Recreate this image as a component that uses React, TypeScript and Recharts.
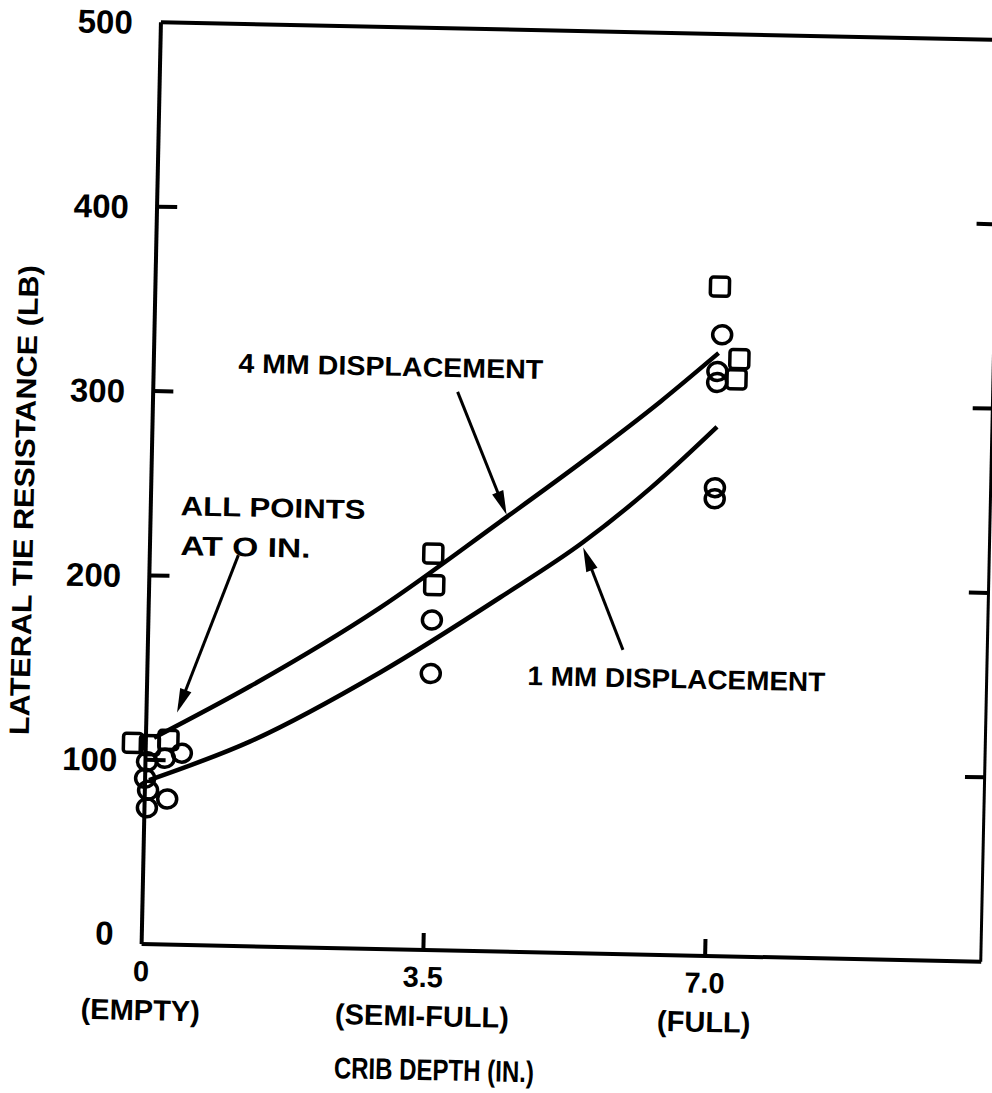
import React from 'react';
import {
  ComposedChart,
  Scatter,
  Line,
  XAxis,
  YAxis,
  ReferenceLine,
  ReferenceDot,
  Label,
} from 'recharts';

// crib depth ticks (in.)
const xTicks = [0, 3.5, 7.0];
const xTickLabels = ['0', '3.5', '7.0'];
const xTickNames = ['(EMPTY)', '(SEMI-FULL)', '(FULL)'];
const yTicks = [0, 100, 200, 300, 400, 500];
const innerTicks = [100, 200, 300, 400];

// measured lateral tie resistance (lb); points at 0 in. are spread out for legibility
const squarePoints = [
  { x: -0.16, y: 109 },
  { x: 0.05, y: 108 },
  { x: 0.28, y: 111 },
  { x: 3.52, y: 215 },
  { x: 3.54, y: 198 },
  { x: 7.01, y: 363 },
  { x: 7.27, y: 324 },
  { x: 7.24, y: 313 },
];

const circlePoints = [
  { x: 0.45, y: 104 },
  { x: 0.24, y: 101 },
  { x: 0.02, y: 99 },
  { x: 0.0, y: 90 },
  { x: 0.04, y: 83.5 },
  { x: 0.28, y: 79 },
  { x: 0.03, y: 74 },
  { x: 3.52, y: 179 },
  { x: 3.52, y: 150 },
  { x: 7.05, y: 337 },
  { x: 7.0, y: 317 },
  { x: 7.0, y: 311 },
  { x: 7.0, y: 254 },
  { x: 7.0, y: 248 },
];

// fitted curves
const curve4mm = [
  { x: 0.1, y: 112 },
  { x: 1.28, y: 141 },
  { x: 2.87, y: 185 },
  { x: 4.34, y: 233 },
  { x: 5.36, y: 267 },
  { x: 6.3, y: 300 },
  { x: 7.01, y: 327 },
];

const curve1mm = [
  { x: 0.05, y: 89 },
  { x: 1.29, y: 111 },
  { x: 2.89, y: 150 },
  { x: 4.36, y: 192 },
  { x: 5.38, y: 223 },
  { x: 6.2, y: 253 },
  { x: 7.01, y: 287 },
];

const X_MIN = -0.35;
const X_MAX = 10.43;
const Y_MAX = 500;
const FONT = '"Liberation Sans", Arial, sans-serif';

const frame = [
  [{ x: 0, y: 0 }, { x: 0, y: Y_MAX }],
  [{ x: 0, y: Y_MAX }, { x: X_MAX, y: Y_MAX }],
  [{ x: X_MAX, y: Y_MAX }, { x: X_MAX, y: 0 }],
  [{ x: 0, y: 0 }, { x: X_MAX, y: 0 }],
];

const tickMarks = [
  ...innerTicks.map((v) => [{ x: 0, y: v }, { x: 0.25, y: v }]),
  ...innerTicks.map((v) => [{ x: X_MAX - 0.25, y: v }, { x: X_MAX, y: v }]),
  ...[3.5, 7.0].map((v) => [{ x: v, y: 0 }, { x: v, y: 9.2 }]),
];

const notes = [
  { x: 1.05, y: 311, text: '4 MM  DISPLACEMENT', len: 305 },
  { x: 0.37, y: 233, text: 'ALL  POINTS', len: 185 },
  { x: 0.38, y: 211.4, text: 'AT  O IN.', len: 130 },
  { x: 4.72, y: 144.8, text: '1 MM  DISPLACEMENT', len: 298 },
];

const arrows = [
  [{ x: 3.78, y: 303 }, { x: 4.42, y: 237 }],
  [{ x: 1.1, y: 212 }, { x: 0.38, y: 126 }],
  [{ x: 5.9, y: 165 }, { x: 5.38, y: 220 }],
];

const SquareMark = (p: any) => (
  <rect
    x={p.cx - 9.5}
    y={p.cy - 9.5}
    width={19}
    height={19}
    rx={3}
    fill="none"
    stroke="#000"
    strokeWidth={3.5}
  />
);

const CircleMark = (p: any) => (
  <ellipse cx={p.cx} cy={p.cy} rx={9.5} ry={9} fill="none" stroke="#000" strokeWidth={3.5} />
);

const Arrow = (p: any) => {
  const { x1, y1, x2, y2 } = p;
  const dx = x2 - x1;
  const dy = y2 - y1;
  const len = Math.hypot(dx, dy) || 1;
  const ux = dx / len;
  const uy = dy / len;
  const hl = 24;
  const hw = 6;
  const bx = x2 - ux * hl;
  const by = y2 - uy * hl;
  return (
    <g>
      <line x1={x1} y1={y1} x2={bx + ux * 4} y2={by + uy * 4} stroke="#000" strokeWidth={3} />
      <polygon
        points={`${x2},${y2} ${bx - uy * hw},${by + ux * hw} ${bx + uy * hw},${by - ux * hw}`}
        fill="#000"
      />
    </g>
  );
};

const YTick = (p: any) => {
  const v = p.payload.value;
  return (
    <text
      x={p.x}
      y={p.y + 12 - (v === 0 ? 11 : 0)}
      textAnchor="end"
      fontFamily={FONT}
      fontWeight="bold"
      fontSize={33}
      fill="#000"
    >
      {v}
    </text>
  );
};

const XTick = (p: any) => {
  const i = xTicks.indexOf(p.payload.value);
  return (
    <g fontFamily={FONT} fontWeight="bold" fontSize={29} fill="#000">
      <text x={p.x} y={p.y + 37} textAnchor="middle">
        {xTickLabels[i]}
      </text>
      <text x={p.x} y={p.y + 76} textAnchor="middle">
        {xTickNames[i]}
      </text>
    </g>
  );
};

const YTitle = (props: any) => {
  const vb = props.viewBox;
  const x = vb.x + 11;
  const y = vb.y + vb.height / 2 + 19.5;
  return (
    <text
      x={x}
      y={y}
      transform={`rotate(-90 ${x} ${y})`}
      textAnchor="middle"
      fontFamily={FONT}
      fontWeight="bold"
      fontSize={28}
      textLength={470}
      lengthAdjust="spacingAndGlyphs"
      fill="#000"
    >
      LATERAL TIE RESISTANCE (LB)
    </text>
  );
};

const XTitle = (props: any) => {
  const vb = props.viewBox;
  return (
    <text
      x={vb.x + 323}
      y={vb.y + 130}
      textAnchor="middle"
      fontFamily={FONT}
      fontWeight="bold"
      fontSize={30}
      textLength={200}
      lengthAdjust="spacingAndGlyphs"
      fill="#000"
    >
      CRIB DEPTH (IN.)
    </text>
  );
};

export default function App() {
  return (
    <div
      style={{
        position: 'absolute',
        left: 0,
        top: 0,
        width: 992,
        height: 1093,
        overflow: 'hidden',
        background: '#fff',
      }}
    >
      <div style={{ transform: 'rotate(1.2deg)', transformOrigin: '571px 492px' }}>
        <ComposedChart width={992} height={1093} margin={{ top: 31, right: 1, bottom: 40, left: 23 }}>
          <XAxis
            type="number"
            dataKey="x"
            domain={[X_MIN, X_MAX]}
            ticks={xTicks}
            interval={0}
            axisLine={false}
            tickLine={false}
            tickSize={0}
            tickMargin={0}
            height={100}
            tick={<XTick />}
          >
            <Label content={<XTitle />} />
          </XAxis>
          <YAxis
            type="number"
            dataKey="y"
            domain={[0, Y_MAX]}
            ticks={yTicks}
            interval={0}
            axisLine={false}
            tickLine={false}
            tickSize={0}
            tickMargin={0}
            width={100}
            tick={<YTick />}
          >
            <Label content={<YTitle />} />
          </YAxis>

          {frame.map((seg, i) => (
            <ReferenceLine key={`f${i}`} segment={seg} stroke="#000" strokeWidth={4} ifOverflow="visible" />
          ))}
          {tickMarks.map((seg, i) => (
            <ReferenceLine key={`t${i}`} segment={seg} stroke="#000" strokeWidth={4} ifOverflow="visible" />
          ))}

          <Line
            data={curve4mm}
            dataKey="y"
            type="monotone"
            stroke="#000"
            strokeWidth={4.5}
            dot={false}
            activeDot={false}
            isAnimationActive={false}
          />
          <Line
            data={curve1mm}
            dataKey="y"
            type="monotone"
            stroke="#000"
            strokeWidth={4.5}
            dot={false}
            activeDot={false}
            isAnimationActive={false}
          />
          <Scatter data={squarePoints} dataKey="y" shape={<SquareMark />} isAnimationActive={false} />
          <Scatter data={circlePoints} dataKey="y" shape={<CircleMark />} isAnimationActive={false} />

          {arrows.map((seg, i) => (
            <ReferenceLine key={`a${i}`} segment={seg} shape={<Arrow />} ifOverflow="visible" />
          ))}
          {notes.map((n, i) => (
            <ReferenceDot
              key={`n${i}`}
              x={n.x}
              y={n.y}
              r={0}
              ifOverflow="visible"
              shape={(p: any) => (
                <text
                  x={p.cx}
                  y={p.cy}
                  fontFamily={FONT}
                  fontWeight="bold"
                  fontSize={27}
                  textLength={n.len}
                  lengthAdjust="spacingAndGlyphs"
                  fill="#000"
                >
                  {n.text}
                </text>
              )}
            />
          ))}
        </ComposedChart>
      </div>
    </div>
  );
}
